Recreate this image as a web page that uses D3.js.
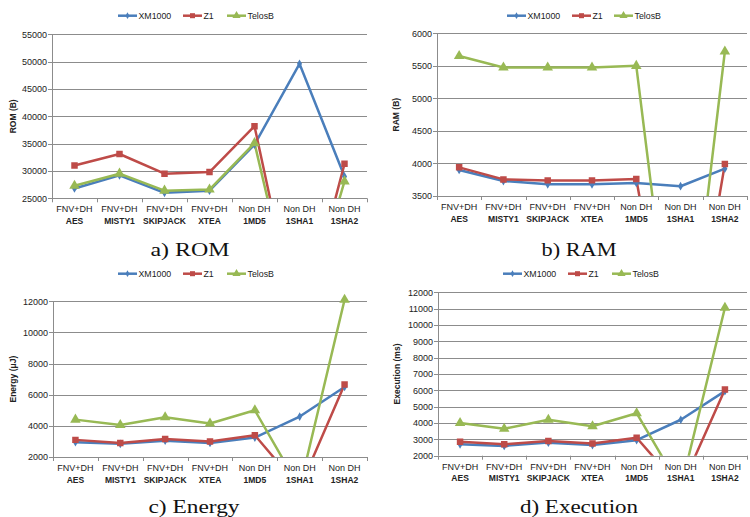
<!DOCTYPE html>
<html><head><meta charset="utf-8">
<script src="https://cdn.jsdelivr.net/npm/d3@7"></script>
<style>body{margin:0;background:#fff}svg{display:block}</style>
</head><body>
<svg id="c" width="750" height="517"></svg>
<script>
const catLine1 = ["FNV+DH","FNV+DH","FNV+DH","FNV+DH","Non DH","Non DH","Non DH"];
const catLine2 = ["AES","MISTY1","SKIPJACK","XTEA","1MD5","1SHA1","1SHA2"];
const seriesNames = ["XM1000","Z1","TelosB"];

const romXM = [26800, 29200, 26000, 26400, 34800, 49600, 29000];
const romZ1 = [31000, 33100, 29500, 29800, 38200, 0, 31300];
const romTelosB = [27300, 29500, 26400, 26600, 35100, 0, 28100];
const romTicks = [25000, 30000, 35000, 40000, 45000, 50000, 55000];

const ramXM = [3900, 3730, 3680, 3680, 3700, 3650, 3920];
const ramZ1 = [3940, 3755, 3740, 3740, 3760, 0, 3990];
const ramTelosB = [5650, 5475, 5475, 5475, 5500, 0, 5720];
const ramTicks = [3500, 4000, 4500, 5000, 5500, 6000];

const energyXM = [2950, 2850, 3050, 2900, 3250, 4600, 6500];
const energyZ1 = [3100, 2900, 3150, 3000, 3400, 0, 6650];
const energyTelosB = [4400, 4050, 4550, 4150, 5000, 0, 12100];
const energyTicks = [2000, 4000, 6000, 8000, 10000, 12000];

const execXM = [2700, 2600, 2800, 2650, 2950, 4200, 5950];
const execZ1 = [2850, 2700, 2900, 2750, 3100, 0, 6050];
const execTelosB = [4000, 3650, 4200, 3800, 4600, 0, 11050];
const execTicks = [2000, 3000, 4000, 5000, 6000, 7000, 8000, 9000, 10000, 11000, 12000];

const colors = ["#4A7EBB", "#BE4B48", "#98B954"];
const markers = [d3.symbolDiamond, d3.symbolSquare, d3.symbolTriangle];
const markerSizes = [22, 42, 48];

const panels = [
  {id:"a", title:"ROM (B)", caption:"a) ROM", series:[romXM, romZ1, romTelosB], ticks:romTicks,
   L:52, R:367, T:34.3, B:198.3, ytx:13, legY:15.7, legX:[118,183,227], capX:190, capY:256, capW:79},
  {id:"b", title:"RAM (B)", caption:"b) RAM", series:[ramXM, ramZ1, ramTelosB], ticks:ramTicks,
   L:437, R:747, T:33.3, B:196, ytx:396, legY:15.7, legX:[507,572,614], capX:579, capY:256, capW:75},
  {id:"c", title:"Energy (\u03BCJ)", caption:"c) Energy", series:[energyXM, energyZ1, energyTelosB], ticks:energyTicks,
   L:53, R:367, T:301.3, B:457, ytx:13, legY:273.7, legX:[118,183,227], capX:194, capY:513, capW:91},
  {id:"d", title:"Execution (ms)", caption:"d) Execution", series:[execXM, execZ1, execTelosB], ticks:execTicks,
   L:438, R:747, T:292.3, B:455.7, ytx:397, legY:273.7, legX:[503,568,612], capX:579, capY:513, capW:118}
];

const svg = d3.select("#c");
const sans = "'Liberation Sans', Arial, sans-serif";

panels.forEach(p => {
  const g = svg.append("g");
  const x = d3.scaleBand().domain(d3.range(catLine2.length)).range([p.L, p.R]).padding(0);
  const y = d3.scaleLinear().domain([p.ticks[0], p.ticks[p.ticks.length-1]]).range([p.B, p.T]);

  // gridlines
  g.append("g").selectAll("line").data(p.ticks).join("line")
    .attr("x1", p.L - 4).attr("x2", p.R)
    .attr("y1", d => Math.round(y(d)) + 0.5).attr("y2", d => Math.round(y(d)) + 0.5)
    .attr("stroke", "#8c8c8c").attr("stroke-width", 1);

  // y axis labels
  const yAxis = d3.axisLeft(y).tickValues(p.ticks).tickFormat(d3.format("d")).tickSize(0).tickPadding(5);
  const ya = g.append("g").attr("transform", `translate(${p.L},0)`).call(yAxis);
  ya.select(".domain").remove();
  ya.selectAll("text").attr("font-family", sans).attr("font-size", 9).attr("fill", "#222");

  // left axis line
  g.append("line").attr("x1", p.L + 0.5).attr("x2", p.L + 0.5).attr("y1", p.T).attr("y2", p.B)
    .attr("stroke", "#8c8c8c");
  // bottom axis & boundaries
  const bounds = d3.range(catLine2.length + 1).map(i => i < catLine2.length ? x(i) : p.R);
  g.append("g").selectAll("line").data(bounds).join("line")
    .attr("x1", d => Math.round(d) + 0.5).attr("x2", d => Math.round(d) + 0.5)
    .attr("y1", p.B).attr("y2", p.B + 4).attr("stroke", "#8c8c8c");

  // category labels
  const cl = g.append("g").selectAll("text").data(catLine2).join("text")
    .attr("x", (d, i) => x(i) + x.bandwidth() / 2)
    .attr("text-anchor", "middle").attr("font-family", sans).attr("fill", "#222");
  cl.append("tspan").attr("x", (d, i) => x(i) + x.bandwidth() / 2).attr("y", p.B + 14)
    .attr("font-size", 9).text((d, i) => catLine1[i]);
  cl.append("tspan").attr("x", (d, i) => x(i) + x.bandwidth() / 2).attr("y", p.B + 25.5)
    .attr("font-size", 8.5).attr("font-weight", "bold").text(d => d);

  // y title
  g.append("text").attr("transform", `translate(${p.ytx},${(p.T + p.B) / 2}) rotate(-90)`)
    .attr("text-anchor", "middle").attr("dy", "0.35em")
    .attr("font-family", sans).attr("font-size", 8.5).attr("font-weight", "bold").attr("fill", "#222")
    .text(p.title);

  // clip
  const clipId = "clip" + p.id;
  svg.append("clipPath").attr("id", clipId).append("rect")
    .attr("x", p.L).attr("y", p.T - 10).attr("width", p.R - p.L + 10).attr("height", p.B - p.T + 10);
  const plot = g.append("g").attr("clip-path", `url(#${clipId})`);

  const line = d3.line().x((d, i) => x(i) + x.bandwidth() / 2).y(d => y(d));
  p.series.forEach((vals, si) => {
    plot.append("path").datum(vals).attr("d", line).attr("fill", "none")
      .attr("stroke", colors[si]).attr("stroke-width", 2.5).attr("stroke-linejoin", "round");
  });
  p.series.forEach((vals, si) => {
    plot.append("g").selectAll("path").data(vals).join("path")
      .attr("transform", (d, i) => `translate(${x(i) + x.bandwidth() / 2},${y(d)})`)
      .attr("d", d3.symbol(markers[si], markerSizes[si]))
      .attr("fill", colors[si]);
  });

  // legend
  seriesNames.forEach((n, si) => {
    const lx = p.legX[si];
    g.append("line").attr("x1", lx).attr("x2", lx + 19).attr("y1", p.legY).attr("y2", p.legY)
      .attr("stroke", colors[si]).attr("stroke-width", 2.5);
    g.append("path").attr("transform", `translate(${lx + 9.5},${p.legY})`)
      .attr("d", d3.symbol(markers[si], markerSizes[si] * 0.6)).attr("fill", colors[si]);
    g.append("text").attr("x", lx + 20.5).attr("y", p.legY).attr("dy", "0.35em")
      .attr("font-family", sans).attr("font-size", 8.8).attr("fill", "#222").text(n);
  });

  // caption
  g.append("text").attr("x", p.capX).attr("y", p.capY).attr("text-anchor", "middle")
    .attr("font-family", "'Liberation Serif', 'DejaVu Serif', serif").attr("font-size", 18)
    .attr("textLength", p.capW).attr("lengthAdjust", "spacingAndGlyphs")
    .attr("fill", "#111").text(p.caption);
});
</script>
</body></html>
